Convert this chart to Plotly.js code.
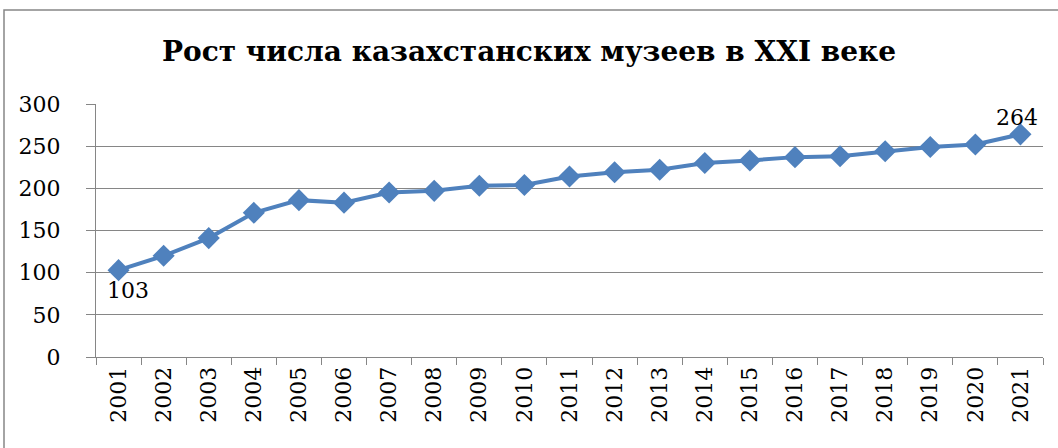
<!DOCTYPE html>
<html>
<head>
<meta charset="utf-8">
<script src="https://cdn.plot.ly/plotly-3.0.1.min.js"></script>
<style>html,body{margin:0;padding:0;background:#fff;}#chart{width:1058px;height:448px;}</style>
</head>
<body>
<div id="chart"></div>
<script>
const years = ['2001','2002','2003','2004','2005','2006','2007','2008','2009','2010','2011','2012','2013','2014','2015','2016','2017','2018','2019','2020','2021'];
const museums = [103,120,141,171,186,183,195,197,203,204,214,219,222,230,233,237,238,244,249,252,264];
const yTicks = [0,50,100,150,200,250,300];
const titleText = 'Рост числа казахстанских музеев в XXI веке';

const W = 1058, H = 448;
const L = 96, R = 15, T = 104, B = 91;
const pw = W - L - R, ph = H - T - B;
const px = x => (x - L) / pw;
const py = y => (H - B - y) / ph;

const serif = 'DejaVu Serif';
const last = museums.length - 1;

const trace = {
  type: 'scatter',
  mode: 'lines+markers',
  x: years,
  y: museums,
  line: {color: '#4F81BD', width: 4},
  marker: {symbol: 'diamond', size: 17, color: '#4F81BD'},
  cliponaxis: false,
  hoverinfo: 'x+y'
};

const layout = {
  width: W, height: H,
  margin: {l: L, r: R, t: T, b: B, pad: 0},
  paper_bgcolor: '#fff', plot_bgcolor: '#fff',
  showlegend: false,
  font: {family: serif, color: '#000'},
  title: {text: '<b>' + titleText + '</b>', font: {family: serif, size: 28, color: '#000'}, x: 0.5, xanchor: 'center', y: 1 - 51 / H, yanchor: 'middle'},
  xaxis: {
    type: 'category',
    tickvals: years, ticktext: years,
    tickangle: -90,
    tickfont: {family: serif, size: 22, color: '#000'},
    showgrid: false, zeroline: false,
    showline: true, linecolor: '#868686', linewidth: 1,
    ticks: 'outside', ticklen: 7, tickcolor: '#868686', tickson: 'boundaries',
    range: [-0.5, years.length - 0.5]
  },
  yaxis: {
    range: [0, 300],
    tickvals: yTicks,
    tickfont: {family: serif, size: 22, color: '#000'},
    showgrid: true, gridcolor: '#868686', gridwidth: 1,
    zeroline: false,
    showline: true, linecolor: '#868686', linewidth: 1,
    ticks: 'outside', ticklen: 9, tickcolor: '#868686',
    ticklabelstandoff: 21
  },
  annotations: [
    {xref: 'x', yref: 'y', x: 0, y: museums[0], text: String(museums[0]), showarrow: false, xanchor: 'center', yanchor: 'middle', xshift: 9, yshift: -20, font: {family: serif, size: 22, color: '#000'}},
    {xref: 'x', yref: 'y', x: last, y: museums[last], text: String(museums[last]), showarrow: false, xanchor: 'center', yanchor: 'middle', xshift: -3, yshift: 17, font: {family: serif, size: 22, color: '#000'}}
  ],
  shapes: [{
    type: 'rect', xref: 'paper', yref: 'paper',
    x0: px(4), x1: px(W + 10), y0: py(H + 10), y1: py(10),
    line: {color: '#868686', width: 1.5}, fillcolor: 'rgba(0,0,0,0)', layer: 'below'
  }]
};

Plotly.newPlot('chart', [trace], layout, {displayModeBar: false, staticPlot: true});
</script>
</body>
</html>
